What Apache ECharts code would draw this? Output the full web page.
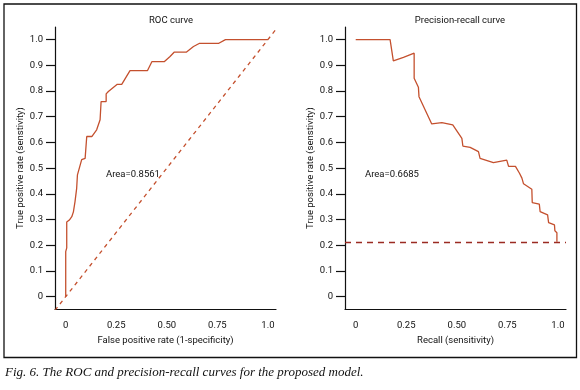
<!DOCTYPE html>
<html>
<head>
<meta charset="utf-8">
<script src="https://cdn.jsdelivr.net/npm/echarts@6/dist/echarts.min.js"></script>
<style>
  html, body { margin: 0; padding: 0; background: #fff; }
  #chart { width: 580px; height: 390px; }
</style>
</head>
<body>
<div id="chart"></div>
<script>
// ROC curve
var rocFpr = [0, 0, 0.005, 0.005, 0.018, 0.03, 0.038, 0.046, 0.054, 0.058, 0.079, 0.096, 0.104, 0.129, 0.153, 0.17, 0.175, 0.2, 0.2, 0.211, 0.255, 0.277, 0.318, 0.404, 0.426, 0.487, 0.516, 0.536, 0.596, 0.632, 0.66, 0.755, 0.79, 1.0];
var rocTpr = [0, 0.175, 0.19, 0.29, 0.298, 0.311, 0.33, 0.37, 0.42, 0.474, 0.533, 0.538, 0.623, 0.623, 0.649, 0.688, 0.759, 0.759, 0.789, 0.798, 0.826, 0.826, 0.879, 0.879, 0.914, 0.914, 0.934, 0.951, 0.951, 0.973, 0.985, 0.985, 1.0, 1.0];
var rocChance = [[-0.053, -0.053], [1.04, 1.04]];

// precision-recall curve
var prRecall = [0, 0.17, 0.186, 0.236, 0.289, 0.289, 0.31, 0.313, 0.376, 0.426, 0.48, 0.525, 0.53, 0.566, 0.607, 0.615, 0.681, 0.747, 0.756, 0.79, 0.81, 0.822, 0.83, 0.871, 0.873, 0.908, 0.912, 0.949, 0.954, 0.983, 0.985, 0.995, 0.995];
var prPrecision = [1.0, 1.0, 0.917, 0.931, 0.947, 0.85, 0.815, 0.778, 0.672, 0.677, 0.668, 0.616, 0.586, 0.581, 0.564, 0.538, 0.521, 0.531, 0.507, 0.507, 0.48, 0.461, 0.439, 0.418, 0.366, 0.36, 0.331, 0.318, 0.288, 0.279, 0.256, 0.249, 0.214];
var prBaseline = 0.214;

var xTicks = [0, 0.25, 0.5, 0.75, 1];
var yTicks = [0, 0.1, 0.2, 0.3, 0.4, 0.5, 0.6, 0.7, 0.8, 0.9, 1];
var areas = ['Area=0.8561', 'Area=0.6685'];

function zip(a, b) {
  return a.map(function (v, i) { return [v, b[i]]; });
}

var font = 'Roboto';
var fs = 9.5;
var red = '#c4502e';

function xLab(v) {
  if (v === 0) return '0';
  if (v === 1) return '1.0';
  return v.toFixed(2);
}
function yLab(v) {
  if (v === 0) return '0';
  return v.toFixed(1);
}

function xAxis(idx, name) {
  return {
    type: 'value', gridIndex: idx, min: -0.053, max: 1.04,
    name: name, nameLocation: 'middle', nameGap: 27,
    nameTextStyle: { fontFamily: font, fontSize: fs, color: '#111' },
    axisLine: { onZero: false, lineStyle: { color: '#111', width: 1.2 } },
    axisTick: { show: false },
    axisLabel: { customValues: xTicks, formatter: xLab, margin: 12, fontFamily: font, fontSize: fs, color: '#111' },
    splitLine: { show: false }
  };
}
function yAxis(idx) {
  return {
    type: 'value', gridIndex: idx, min: -0.048, max: 1.049,
    name: 'True positive rate (senstivity)', nameLocation: 'middle', nameGap: 29,
    nameTextStyle: { fontFamily: font, fontSize: fs, color: '#111' },
    axisLine: { onZero: false, lineStyle: { color: '#111', width: 1.2 } },
    axisTick: { customValues: yTicks, length: 9, lineStyle: { color: '#111', width: 1.2 } },
    axisLabel: { customValues: yTicks, formatter: yLab, margin: 12, fontFamily: font, fontSize: fs, color: '#111' },
    splitLine: { show: false }
  };
}

var myChart = echarts.init(document.getElementById('chart'));

var option = {
  animation: false,
  backgroundColor: '#fff',
  title: [
    { text: 'ROC curve', left: 166, top: 11, textAlign: 'center',
      textStyle: { fontFamily: font, fontSize: fs, fontWeight: 'normal', color: '#111' } },
    { text: 'Precision-recall curve', left: 455, top: 11, textAlign: 'center',
      textStyle: { fontFamily: font, fontSize: fs, fontWeight: 'normal', color: '#111' } },
    { text: areas[0], left: 101, top: 165,
      textStyle: { fontFamily: font, fontSize: fs, fontWeight: 'normal', color: '#111' } },
    { text: areas[1], left: 360, top: 165,
      textStyle: { fontFamily: font, fontSize: fs, fontWeight: 'normal', color: '#111' } }
  ],
  grid: [
    { left: 55, right: 304, top: 27, bottom: 81 },
    { left: 345, right: 14, top: 27, bottom: 81 }
  ],
  xAxis: [xAxis(0, 'False positive rate (1-specificity)'), xAxis(1, 'Recall (sensitivity)')],
  yAxis: [yAxis(0), yAxis(1)],
  series: [
    {
      type: 'line', xAxisIndex: 0, yAxisIndex: 0, symbol: 'none',
      data: rocChance,
      lineStyle: { color: red, width: 1.3, type: [4, 4] }
    },
    {
      type: 'line', xAxisIndex: 0, yAxisIndex: 0, symbol: 'none',
      data: zip(rocFpr, rocTpr),
      lineStyle: { color: red, width: 1.3 }
    },
    {
      type: 'line', xAxisIndex: 1, yAxisIndex: 1, symbol: 'none',
      data: zip(prRecall, prPrecision),
      lineStyle: { color: red, width: 1.3 },
      markLine: {
        silent: true, symbol: 'none', label: { show: false },
        lineStyle: { color: '#9b2b22', width: 1.3, type: [6, 5] },
        data: [{ yAxis: prBaseline }]
      }
    }
  ],
  graphic: [
    { type: 'rect', shape: { x: 4, y: 4, width: 572.5, height: 353.5 },
      style: { fill: 'none', stroke: '#111', lineWidth: 1.3 }, z: 100 },
    { type: 'text', left: 5, top: 366,
      style: { text: 'Fig. 6. The ROC and precision-recall curves for the proposed model.',
        font: 'italic 13px "Liberation Serif"', fill: '#111' } }
  ]
};

myChart.setOption(option);
</script>
</body>
</html>
